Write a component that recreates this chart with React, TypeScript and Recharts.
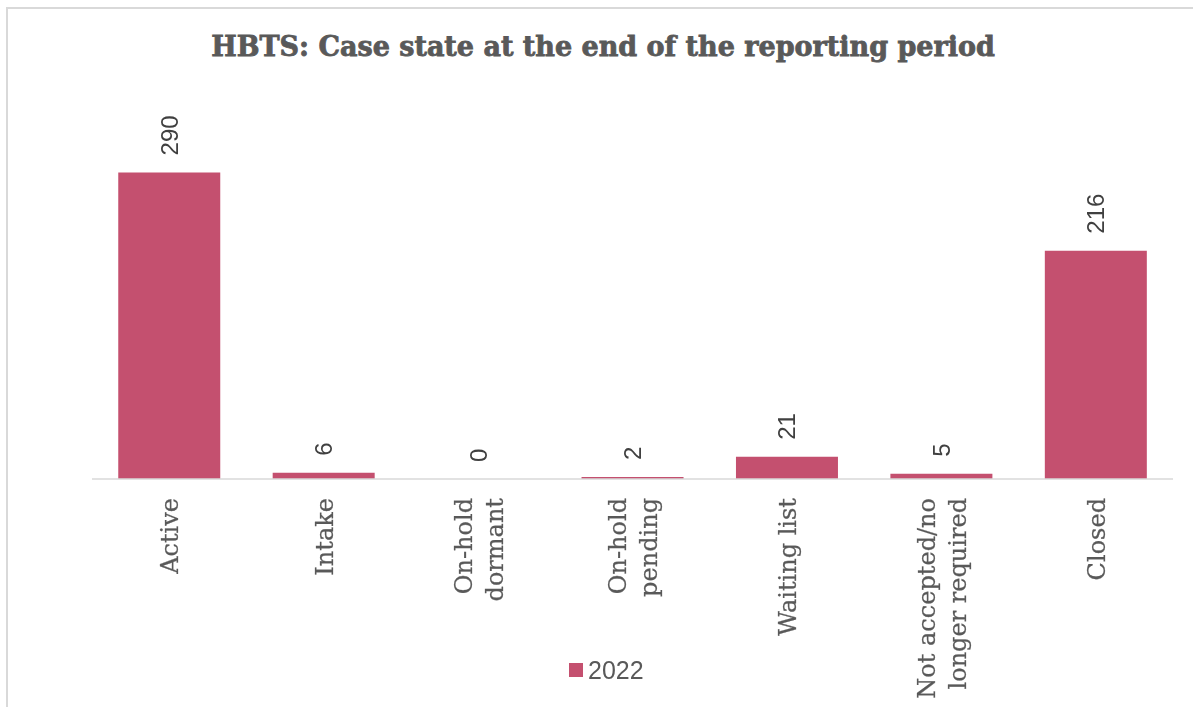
import React from 'react';
import { BarChart, Bar, XAxis, YAxis, Legend, LabelList } from 'recharts';

const categories = [
  'Active',
  'Intake',
  'On-hold dormant',
  'On-hold pending',
  'Waiting list',
  'Not accepted/no longer required',
  'Closed',
];
const categoryLines = [
  ['Active'],
  ['Intake'],
  ['On-hold', 'dormant'],
  ['On-hold', 'pending'],
  ['Waiting list'],
  ['Not accepted/no', 'longer required'],
  ['Closed'],
];
const values2022 = [290, 6, 0, 2, 21, 5, 216];
const seriesName = '2022';
const titleText = 'HBTS: Case state at the end of the reporting period';

const data = categories.map((c, i) => ({ category: c, v2022: values2022[i] }));

const BAR_COLOR = '#C4506F';
const SERIF = '"DejaVu Serif", serif';
const SANS = '"Liberation Sans", Arial, sans-serif';

const CategoryTick = (props: any) => {
  const { x, y, index } = props;
  const lines = categoryLines[index] || [String(props.payload?.value ?? '')];
  const n = lines.length;
  const fs = 24;
  const capHalf = 9;
  const spacing = 31;
  return (
    <g transform={`translate(${x},${y})`}>
      <text
        transform="rotate(-90)"
        textAnchor="end"
        fontFamily={SERIF}
        fontSize={fs}
        fill="#595959"
        stroke="#595959"
        strokeWidth={0.25}
      >
        {lines.map((l: string, i: number) => (
          <tspan key={i} x={-19} y={capHalf + (i - (n - 1) / 2) * spacing}>
            {l}
          </tspan>
        ))}
      </text>
    </g>
  );
};

const ValueLabel = (props: any) => {
  const { x, y, width, height, value } = props;
  const cx = Number(x) + Number(width) / 2;
  const top = Math.min(Number(y), Number(y) + Number(height || 0));
  return (
    <g transform={`translate(${cx},${top})`}>
      <text
        transform="rotate(-90)"
        textAnchor="start"
        x={17}
        y={8.5}
        fontFamily={SANS}
        fontSize={24}
        fill="#404040"
      >
        {String(value)}
      </text>
    </g>
  );
};

const LegendContent = (props: any) => {
  const items = props.payload || [];
  return (
    <div style={{ display: 'flex', alignItems: 'center', marginLeft: 561 }}>
      {items.map((it: any, i: number) => (
        <div key={i} style={{ display: 'flex', alignItems: 'center' }}>
          <span style={{ display: 'inline-block', width: 14, height: 14, background: it.color }} />
          <span
            style={{
              marginLeft: 5,
              fontFamily: SANS,
              fontSize: 25,
              color: '#595959',
              lineHeight: '26px',
            }}
          >
            {it.value}
          </span>
        </div>
      ))}
    </div>
  );
};

export default function App() {
  return (
    <div
      style={{
        marginLeft: 0,
        marginTop: 1,
        width: 1185,
        height: 698,
        position: 'relative',
        overflow: 'hidden',
        background: '#fff',
      }}
    >
      <style>{`html,body{overflow:hidden;}`}</style>
      <div style={{ position: 'fixed', left: 6, top: 7, width: 2, height: 710, background: '#d9d9d9' }} />
      <div style={{ position: 'fixed', left: 6, top: 7, width: 1200, height: 2, background: '#d9d9d9' }} />
      <div
        style={{
          position: 'absolute',
          left: 0,
          top: 22,
          width: 1190,
          textAlign: 'center',
          fontFamily: SERIF,
          fontWeight: 'bold',
          fontSize: 27,
          lineHeight: '32px',
          color: '#595959',
          WebkitTextStroke: '0.8px #595959',
        }}
      >
        {titleText}
      </div>
      <BarChart
        width={1185}
        height={698}
        data={data}
        margin={{ top: 100, right: 20, bottom: 0, left: 84 }}
        barCategoryGap="17%"
      >
        <XAxis
          dataKey="category"
          interval={0}
          height={228}
          tickLine={false}
          tickSize={0}
          tickMargin={0}
          axisLine={{ stroke: '#d9d9d9', strokeWidth: 1.5 }}
          tick={<CategoryTick />}
        />
        <YAxis hide domain={[0, 350]} />
        <Legend
          layout="horizontal"
          verticalAlign="middle"
          align="center"
          wrapperStyle={{ left: 0, top: 648, width: 1185 }}
          content={<LegendContent />}
        />
        <Bar
          dataKey="v2022"
          name={seriesName}
          fill={BAR_COLOR}
          minPointSize={0.01}
          isAnimationActive={false}
        >
          <LabelList dataKey="v2022" content={<ValueLabel />} />
        </Bar>
      </BarChart>
    </div>
  );
}
